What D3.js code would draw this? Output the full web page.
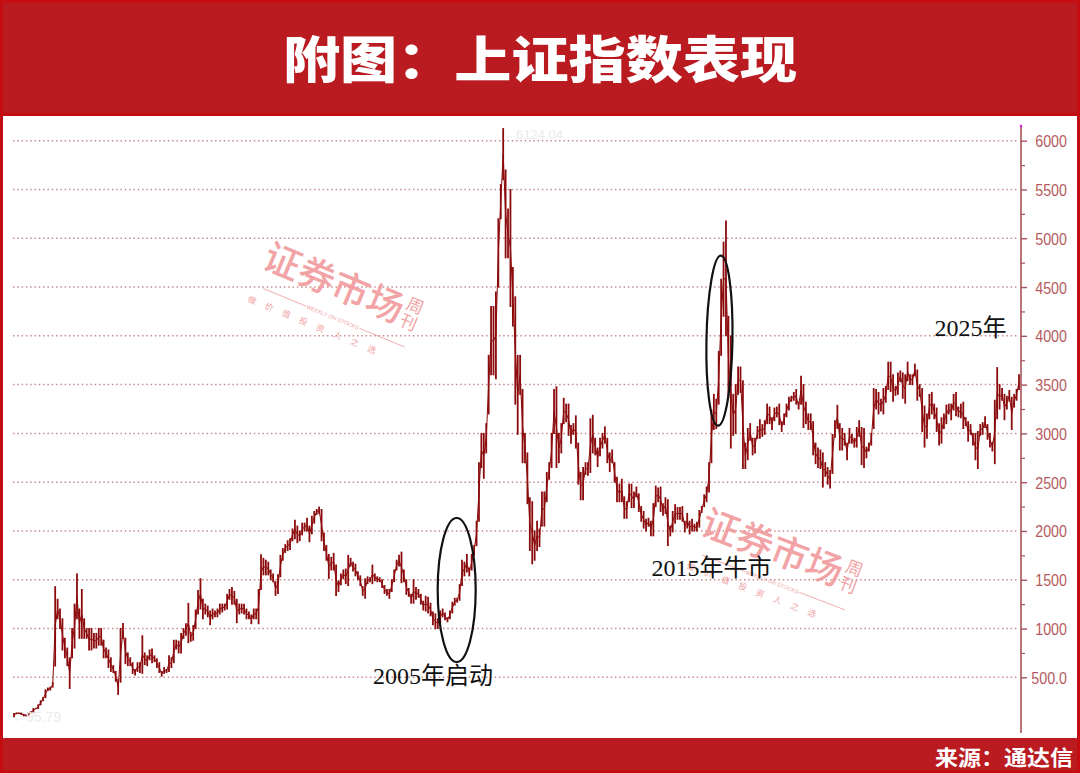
<!DOCTYPE html>
<html><head><meta charset="utf-8">
<script src="https://cdn.jsdelivr.net/npm/d3@7"></script>
<style>html,body{margin:0;padding:0;background:#fff;}svg{display:block}</style>
</head><body><svg id="c" width="1080" height="773"></svg>
<script>
// ===== DATA (monthly high / low of the Shanghai Composite, Dec 1990 – Jul 2025) =====
const firstMonth = "1990-12";
const hi = [
 128, // 1990 Dec
 135,134,134,121,115,137,146,180,181,218,260,293,          // 1991
 372,390,400,445,1429,1300,1200,1100,900,800,700,1000,     // 1992
 1250,1558,1200,1400,1100,1000,1000,1000,950,950,1000,1000,// 1993
 880,800,780,700,620,560,480,1000,1052,900,750,700,        // 1994
 650,580,650,650,926,750,720,780,790,720,690,650,          // 1995
 560,600,580,720,700,880,880,870,950,1000,1050,1258,       // 1996
 960,1030,1190,1390,1510,1300,1250,1230,1180,1200,1180,1200,// 1997
 1250,1250,1250,1350,1400,1420,1380,1300,1250,1250,1250,1200,// 1998
 1170,1140,1200,1200,1400,1756,1720,1700,1680,1600,1560,1480,// 1999
 1550,1750,1820,1860,1900,1920,2020,2110,2050,2000,2080,2080,// 2000
 2130,2050,2150,2200,2220,2245,2220,1980,1850,1760,1730,1770,// 2001
 1650,1490,1560,1600,1610,1750,1720,1680,1660,1580,1540,1430,// 2002
 1510,1530,1520,1650,1560,1530,1520,1500,1440,1400,1400,1500,// 2003
 1600,1700,1750,1783,1600,1500,1410,1350,1500,1420,1400,1350,// 2004
 1280,1330,1320,1260,1170,1150,1100,1180,1200,1160,1110,1180,// 2005
 1270,1310,1310,1450,1700,1680,1760,1620,1760,1850,2100,2700,// 2006
 3000,3000,3100,3800,4300,4300,4450,5200,5550,6124,5700,5300,// 2007
 5500,4700,4400,3800,3800,3450,3000,2800,2340,2300,2000,2100,// 2008
 2020,2400,2400,2600,2700,3000,3450,3478,3000,3100,3360,3300,// 2009
 3300,3080,3100,3180,2900,2600,2650,2700,2700,3150,3186,2950,// 2010
 2850,2950,3000,3067,2950,2800,2830,2700,2550,2480,2530,2350,// 2011
 2300,2480,2480,2400,2450,2380,2250,2200,2120,2130,2100,2280,// 2012
 2460,2440,2450,2280,2340,2320,2050,2200,2270,2240,2240,2250,// 2013
 2100,2180,2100,2120,2070,2090,2210,2250,2370,2450,2700,3240,// 2014
 3400,3350,3840,4580,4960,5178,4200,4000,3400,3500,3680,3680,// 2015
 3540,2900,3050,3100,2950,2950,3070,3140,3090,3130,3300,3270,// 2016
 3160,3260,3270,3300,3120,3200,3300,3370,3380,3420,3450,3320,// 2017
 3587,3500,3320,3200,3200,3120,2900,2850,2830,2800,2700,2650,// 2018
 2620,2990,3130,3288,3100,3050,3000,2900,3050,2990,2950,3060,// 2019
 3130,3060,3050,2860,2900,3000,3460,3450,3420,3350,3460,3480,// 2020
 3730,3730,3600,3480,3620,3640,3620,3600,3730,3600,3600,3710,// 2021
 3650,3500,3460,3280,3200,3400,3420,3300,3260,3100,3160,3200,// 2022
 3290,3300,3300,3400,3420,3270,3300,3320,3160,3120,3090,3000,// 2023
 3000,3020,3090,3110,3170,3090,3000,2910,3340,3674,3500,3460,// 2024
 3400,3380,3440,3370,3400,3450,3600                          // 2025
];
const lo = [
 96,
 127,129,120,105,104,113,136,145,178,180,218,260,
 292,365,370,400,616,1100,1000,780,700,620,386,700,
 800,1100,900,900,900,900,780,780,800,800,830,830,
 700,700,600,560,550,460,325,450,900,640,620,620,
 540,525,560,550,540,630,620,680,650,660,600,550,
 512,540,550,560,600,650,790,750,750,900,930,855,
 870,880,1000,1150,1200,1100,1150,1120,1040,1100,1120,1120,
 1150,1170,1190,1200,1300,1250,1250,1060,1150,1160,1150,1100,
 1100,1050,1100,1100,1050,1400,1550,1550,1550,1500,1480,1340,
 1360,1530,1700,1780,1800,1810,1900,1920,1880,1900,1960,2000,
 2000,1890,1970,2080,2170,2180,1900,1800,1700,1514,1600,1600,
 1339,1380,1450,1510,1460,1440,1640,1590,1540,1500,1440,1340,
 1311,1460,1480,1460,1490,1480,1480,1420,1360,1340,1310,1380,
 1480,1600,1640,1470,1480,1350,1330,1260,1260,1300,1320,1250,
 1190,1180,1160,1130,1040,998,1000,1060,1120,1090,1070,1100,
 1160,1240,1270,1290,1440,1540,1580,1540,1600,1750,1850,2100,
 2650,2540,2800,3200,3600,3600,3560,4500,5200,5600,4800,4800,
 4300,4100,3300,2990,3400,2700,2700,2280,1800,1664,1700,1800,
 1840,2050,2050,2300,2530,2650,3000,2650,2700,2800,3100,3120,
 2980,2900,2990,2850,2480,2320,2320,2580,2570,2600,2800,2780,
 2660,2770,2850,2900,2700,2610,2700,2500,2300,2300,2300,2130,
 2130,2300,2240,2240,2350,2200,2100,2030,2000,2050,1950,1950,
 2250,2300,2200,2160,2180,1850,1950,1990,2080,2120,2120,2100,
 1990,2030,1970,2000,2000,2000,2040,2190,2250,2300,2400,2700,
 3040,3050,3300,3800,4200,4000,3370,2850,2980,3000,3400,3420,
 2640,2640,2730,2930,2780,2800,2950,2950,2970,2990,3100,3100,
 3040,3130,3170,3090,3020,3090,3170,3240,3330,3340,3300,3250,
 3300,3060,3100,3040,3040,2780,2690,2650,2640,2450,2560,2480,
 2440,2590,2960,3050,2830,2830,2880,2730,2900,2900,2860,2860,
 2970,2680,2650,2750,2820,2880,3050,3250,3200,3230,3200,3320,
 3450,3430,3330,3390,3400,3530,3360,3310,3540,3500,3500,3590,
 3340,3380,3020,2860,2950,3150,3200,3150,3020,2880,2900,3050,
 3100,3200,3140,3240,3180,3170,3160,3050,3080,2920,2990,2880,
 2730,2640,2980,2990,3060,2940,2860,2820,2690,3150,3250,3340,
 3140,3250,3330,3040,3270,3340,3450
];
const yTickValues = [500,1000,1500,2000,2500,3000,3500,4000,4500,5000,5500,6000];
const yMinorValues = [750,1250,1750,2250,2750,3250,3750,4250,4750,5250,5750];
const maxLabel = "←6124.04";
const minLabel = "←95.79";
const titleText = "附图：上证指数表现";
const sourceText = "来源：通达信";
const notes = [
  {text:"2005年启动", m:173, v:430},
  {text:"2015年牛市", m:288, v:1540},
  {text:"2025年",     m:395, v:4000}
];
const rings = [
  {m:182.8, v:1395, rx:19, ry:72, rot:0},
  {m:291.3, v:3950, rx:13, ry:85, rot:1}
];

// ===== DRAW =====
const W=1080,H=773;
const svg=d3.select("#c");
const RED="#b91b21";
svg.append("rect").attr("width",W).attr("height",H).attr("fill",RED);
svg.append("rect").attr("x",1.5).attr("y",1.5).attr("width",W-3).attr("height",H-3)
   .attr("fill","none").attr("stroke","#c40d10").attr("stroke-width",3);
svg.append("rect").attr("x",0).attr("y",113).attr("width",W).attr("height",3).attr("fill","#c40d10");
svg.append("rect").attr("x",3).attr("y",116).attr("width",W-6).attr("height",622).attr("fill","#fff");

// title
svg.append("text").attr("x",540).attr("y",78).attr("text-anchor","middle")
  .attr("font-family","'Noto Sans CJK SC',sans-serif").attr("font-weight",900)
  .attr("font-size",50).attr("fill","#fff")
  .attr("textLength",514).attr("lengthAdjust","spacingAndGlyphs").text(titleText);
// source
svg.append("text").attr("x",1073).attr("y",765).attr("text-anchor","end")
  .attr("font-family","'Noto Sans CJK SC',sans-serif").attr("font-weight",700)
  .attr("font-size",21).attr("fill","#fff")
  .attr("textLength",138).attr("lengthAdjust","spacingAndGlyphs").text(sourceText);

const n=hi.length;
const x=d3.scaleLinear().domain([0,n-1]).range([14,1019]);
const y=d3.scaleLinear().domain([0,6000]).range([726.1,140.7]);
const AX=1021;

// grid
svg.append("g").selectAll("line").data(yTickValues).join("line")
  .attr("x1",13).attr("x2",AX-3).attr("y1",d=>y(d)).attr("y2",d=>y(d))
  .attr("stroke","#c98a8c").attr("stroke-width",1.5).attr("stroke-dasharray","1.5 2.8");

// watermarks
function watermark(cx,cy,ang){
  const g=svg.append("g").attr("transform",`translate(${cx},${cy}) rotate(${ang})`)
    .attr("fill","#ef9396").attr("opacity",0.85)
    .attr("font-family","'Noto Sans CJK SC',sans-serif");
  g.append("text").attr("x",-19).attr("y",13).attr("font-size",37).attr("font-weight",500)
    .text("证券市场");
  g.append("text").attr("x",139).attr("y",-4).attr("font-size",17).attr("text-anchor","middle").text("周");
  g.append("text").attr("x",139).attr("y",14).attr("font-size",17).attr("text-anchor","middle").text("刊");
  g.append("line").attr("x1",-8).attr("x2",38).attr("y1",32).attr("y2",32).attr("stroke","#ef9396").attr("stroke-width",0.8);
  g.append("line").attr("x1",96).attr("x2",145).attr("y1",32).attr("y2",32).attr("stroke","#ef9396").attr("stroke-width",0.8);
  g.append("text").attr("x",67).attr("y",34).attr("font-size",5.5).attr("text-anchor","middle")
    .attr("font-family","'Liberation Sans',sans-serif").text("WEEKLY ON STOCKS");
  const chars="做价值投资人之选".split("");
  g.selectAll("text.s").data(chars).join("text").attr("class","s")
    .attr("x",(d,i)=>-14+i*18.5).attr("y",50).attr("font-size",8.5).attr("text-anchor","middle").text(d=>d);
}
watermark(283,262,22.5);
watermark(721,528,21);

// price bars
const C="#8b0a0c";
const mid=d3.range(n).map(i=>(hi[i]+lo[i])/2);
svg.append("path").datum(d3.range(n))
  .attr("d",d3.line().x(i=>x(i)).y(i=>y(mid[i])))
  .attr("fill","none").attr("stroke",C).attr("stroke-width",1);
svg.append("g").selectAll("line").data(d3.range(n)).join("line")
  .attr("x1",i=>x(i)).attr("x2",i=>x(i))
  .attr("y1",i=>y(hi[i])-0.5).attr("y2",i=>y(lo[i])+0.5)
  .attr("stroke",C).attr("stroke-width",1.8);

// axis
svg.append("line").attr("x1",AX).attr("x2",AX).attr("y1",126).attr("y2",733)
  .attr("stroke","#a65458").attr("stroke-width",1.6);
svg.append("circle").attr("cx",AX).attr("cy",126).attr("r",1.3).attr("fill","#e020e0");
const axG=svg.append("g").attr("transform",`translate(${AX},0)`);
const ax=d3.axisRight(y).tickValues(yTickValues).tickSize(6).tickPadding(0)
  .tickFormat(d=>d===500?"500.0":String(d));
axG.call(ax);
axG.select(".domain").remove();
axG.selectAll(".tick line").attr("stroke","#a65458").attr("stroke-width",1.4);
axG.selectAll(".tick text").attr("fill","#b65a5e")
  .attr("font-family","'Liberation Sans',Arial,sans-serif").attr("font-size",17)
  .attr("text-anchor","end").attr("x",0).attr("dy","0.35em")
  .attr("transform","translate(46,0) scale(0.84,1)");
const mG=svg.append("g").attr("transform",`translate(${AX},0)`);
mG.call(d3.axisRight(y).tickValues(yMinorValues).tickSize(4).tickFormat(""));
mG.select(".domain").remove();
mG.selectAll(".tick line").attr("stroke","#a65458").attr("stroke-width",1.2);

// faint extreme labels
svg.append("text").attr("x",503).attr("y",139).attr("font-size",13)
  .attr("font-family","'Liberation Sans',sans-serif").attr("fill","#ebebeb").text(maxLabel);
svg.append("text").attr("x",12).attr("y",722).attr("font-size",14)
  .attr("font-family","'Liberation Sans',sans-serif").attr("fill","#ebebeb").text(minLabel);

// rings
svg.append("g").selectAll("ellipse").data(rings).join("ellipse")
  .attr("transform",d=>`translate(${x(d.m)},${y(d.v)}) rotate(${d.rot})`)
  .attr("rx",d=>d.rx).attr("ry",d=>d.ry)
  .attr("fill","none").attr("stroke","#111").attr("stroke-width",2.2);

// notes
svg.append("g").selectAll("text").data(notes).join("text")
  .attr("x",d=>x(d.m)).attr("y",d=>y(d.v)).attr("text-anchor","middle")
  .attr("font-family","'Liberation Serif','Noto Sans CJK SC',serif")
  .attr("font-size",24).attr("fill","#111").text(d=>d.text);
</script></body></html>
